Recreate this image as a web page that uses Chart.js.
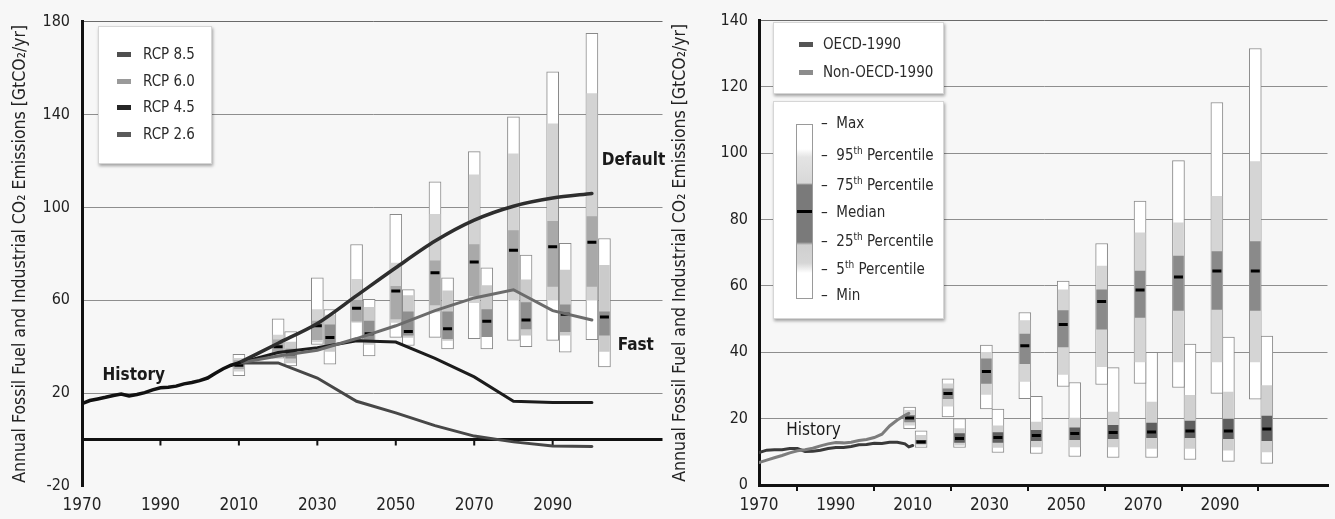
<!DOCTYPE html>
<html>

<head>
    <meta charset="utf-8">
    <script src="https://cdn.jsdelivr.net/npm/chart.js@4.4.7/dist/chart.umd.min.js"></script>
    <style>
        body { margin: 0; background: #f7f7f7; }
        #board { position: relative; width: 1335px; height: 519px; overflow: hidden;
                 font-family: 'Liberation Sans Narrow', 'DejaVu Sans Condensed', sans-serif; color: #2a2a2a; }
        canvas { position: absolute; top: 0; }
        .box { position: absolute; background: #fff; border: 1px solid #d6d6d6; box-shadow: 1px 2px 3px rgba(0,0,0,0.35); }
        .item { position: absolute; font-size: 15px; line-height: 18px; white-space: nowrap; }
        .swatch { position: absolute; width: 14px; height: 5px; }
        sup { font-size: 10px; line-height: 0; }
    </style>
</head>

<body>
    <div id="board">
        <canvas id="leftChart" width="670" height="519" style="left:0"></canvas>
        <canvas id="rightChart" width="675" height="519" style="left:660px"></canvas>

        <div class="box" style="left:98px; top:26px; width:112px; height:136px;">
            <div class="swatch" style="left:18px; top:25px; background:#4f4f4f"></div>
            <div class="item" style="left:44px; top:18px;">RCP 8.5</div>
            <div class="swatch" style="left:18px; top:52px; background:#9a9a9a"></div>
            <div class="item" style="left:44px; top:45px;">RCP 6.0</div>
            <div class="swatch" style="left:18px; top:78px; background:#262626"></div>
            <div class="item" style="left:44px; top:71px;">RCP 4.5</div>
            <div class="swatch" style="left:18px; top:105px; background:#5a5a5a"></div>
            <div class="item" style="left:44px; top:98px;">RCP 2.6</div>
        </div>

        <div class="box" style="left:773px; top:22px; width:169px; height:70px;">
            <div class="swatch" style="left:25px; top:19px; background:#555"></div>
            <div class="item" style="left:49px; top:12px;">OECD-1990</div>
            <div class="swatch" style="left:25px; top:47px; background:#8c8c8c"></div>
            <div class="item" style="left:49px; top:40px;">Non-OECD-1990</div>
        </div>

        <div class="box" style="left:773px; top:101px; width:169px; height:216px;">
            <div style="position:absolute; left:22px; top:22px; width:15px; height:173px; border:1px solid #9a9a9a;
                        background:linear-gradient(#fff 0px, #fff 24px, #e4e4e4 32px, #d8d8d8 58px, #7a7a7a 60px, #7a7a7a 117px, #cfcfcf 120px, #d6d6d6 138px, #fff 148px, #fff 173px)"></div>
            <div style="position:absolute; left:23px; top:108px; width:15px; height:3px; background:#000"></div>
            <div class="item" style="left:47px; top:12px;">–&nbsp; Max</div>
            <div class="item" style="left:47px; top:44px;">–&nbsp; 95<sup>th</sup> Percentile</div>
            <div class="item" style="left:47px; top:74px;">–&nbsp; 75<sup>th</sup> Percentile</div>
            <div class="item" style="left:47px; top:101px;">–&nbsp; Median</div>
            <div class="item" style="left:47px; top:130px;">–&nbsp; 25<sup>th</sup> Percentile</div>
            <div class="item" style="left:47px; top:158px;">–&nbsp; 5<sup>th</sup> Percentile</div>
            <div class="item" style="left:47px; top:184px;">–&nbsp; Min</div>
        </div>
    </div>

    <script>
        // axes
        const xTicks = [1970, 1990, 2010, 2030, 2050, 2070, 2090];
        const leftYTicks = [-20, 20, 60, 100, 140, 180];
        const rightYTicks = [0, 20, 40, 60, 80, 100, 120, 140];
        const yTitle = "Annual Fossil Fuel and Industrial CO\u2082 Emissions [GtCO\u2082/yr]";

        // left panel: history and pathways
        const histYears = [1970, 1972, 1974, 1976, 1978, 1980, 1982, 1984, 1986, 1988, 1990, 1992, 1994, 1996, 1998, 2000, 2002, 2004, 2006, 2008, 2010];
        const histWorld = [15.5, 16.8, 17.5, 18.2, 19.0, 19.6, 18.8, 19.4, 20.2, 21.4, 22.3, 22.5, 23.0, 24.0, 24.6, 25.4, 26.5, 28.6, 30.5, 32.0, 33.0];

        const pathYears = [2010, 2020, 2030, 2040, 2050, 2060, 2070, 2080, 2090, 2100];
        const defaultPath = [33, 41.5, 50, 62, 74, 85.5, 94.5, 100.5, 104, 106];
        const fastPath = [33, 36, 38.5, 43.5, 49, 55.5, 61, 64.5, 55.5, 51.5];
        const midPath = [33, 37.5, 39.5, 42.5, 42, 35, 27, 16.5, 16, 16];
        const lowPath = [33, 33, 26.5, 16.5, 11.5, 6, 1.5, -1, -2.8, -3];

        // left panel boxes: [min, p5, p25, median, p75, p95, max]
        const defaultYears = [2010, 2020, 2030, 2040, 2050, 2060, 2070, 2080, 2090, 2100];
        const defaultStats = [
            [27.5, 29.5, 30.5, 32, 34, 35, 36.7],
            [35, 36.5, 38, 40, 43, 45, 52],
            [41, 42, 43, 49, 51, 56, 69.7],
            [43, 50.5, 51, 56.6, 60, 69, 84],
            [44, 50.5, 52, 64, 66, 76, 97],
            [44, 55, 58, 71.8, 77, 97, 111],
            [43.5, 59, 62, 76.5, 84, 114, 124],
            [42.7, 60, 64, 81.5, 90, 123, 139],
            [42.7, 60, 66, 83, 94, 136, 158.4],
            [43, 60, 66, 85, 96, 149, 175]
        ];
        const fastYears = [2020, 2030, 2040, 2050, 2060, 2070, 2080, 2090, 2100];
        const fastStats = [
            [31.7, 33, 35, 37, 39, 42, 46.5],
            [32.5, 38, 41, 44, 49.4, 53.6, 56],
            [36, 41, 43, 45.6, 51, 57, 60.4],
            [40.5, 44, 45, 46.5, 55, 62, 64.6],
            [39, 42.7, 43.5, 47.7, 55, 64, 69.7],
            [39, 44.3, 44.3, 51, 56, 66.3, 74],
            [40, 45, 47.7, 51.5, 59, 68.8, 79.4],
            [37.6, 45, 46.5, 54, 58, 73, 84.5],
            [31.3, 38, 45, 52.8, 55, 75, 86.6]
        ];

        // right panel: history by region
        const regionYears = [1970, 1972, 1974, 1976, 1978, 1980, 1982, 1984, 1986, 1988, 1990, 1992, 1994, 1996, 1998, 2000, 2002, 2004, 2006, 2008, 2009, 2010];
        const oecdHist = [9.8, 10.5, 10.6, 10.6, 11.0, 11.0, 10.1, 10.2, 10.5, 11.0, 11.3, 11.3, 11.6, 12.1, 12.2, 12.6, 12.5, 12.9, 12.9, 12.4, 11.5, 11.9];
        const nonOecdHist = [6.8, 7.5, 8.2, 8.9, 9.7, 10.3, 10.6, 11.1, 11.8, 12.4, 12.8, 12.7, 12.9, 13.4, 13.7, 14.3, 15.3, 17.8, 19.6, 21.0, 21.6, null];

        // right panel boxes: [min, p5, p25, median, p75, p95, max]
        const regionBoxYears = [2010, 2020, 2030, 2040, 2050, 2060, 2070, 2080, 2090, 2100];
        const nonOecdStats = [
            [17, 18, 19, 20.2, 21, 22.5, 23.5],
            [20.5, 23.8, 26, 27.6, 29, 30.5, 32],
            [22.9, 27.3, 30.6, 34.2, 38, 40, 42.2],
            [26, 31.2, 36.6, 42, 45.5, 49.6, 52],
            [29.7, 33.3, 41.6, 48.4, 52.6, 58.8, 61.5],
            [30.3, 35.7, 47, 55.3, 58.8, 66, 72.8],
            [30.6, 37.1, 50.5, 58.8, 64.5, 76, 85.6],
            [29.4, 37.1, 52.6, 62.7, 69, 79, 97.8],
            [27.6, 37.1, 52.9, 64.5, 70.4, 87, 115.3],
            [25.9, 37.1, 52.6, 64.5, 73.4, 97.5, 131.6]
        ];
        const oecdStats = [
            [11.3, 12, 12.5, 13, 13.5, 15, 16.3],
            [11.3, 12, 12.8, 14, 15.5, 17, 20],
            [9.8, 11.3, 12.8, 14.3, 15.8, 17.8, 22.9],
            [9.5, 11.5, 13.4, 14.9, 16.5, 19, 26.7],
            [8.6, 11.5, 13.7, 15.5, 17.2, 20.2, 30.9],
            [8.3, 11.5, 14, 15.8, 18, 22, 35.4],
            [8.3, 11, 14.3, 16, 18.7, 25, 40],
            [7.7, 11, 14.3, 16.3, 19.3, 27, 42.5],
            [7.1, 10.5, 14, 16.3, 19.9, 28, 44.6],
            [6.5, 10, 13.4, 16.9, 20.8, 30, 44.9]
        ];

        const FONT = "'Liberation Sans Narrow', 'DejaVu Sans Condensed', sans-serif";
        Chart.defaults.font.family = FONT;
        Chart.defaults.color = '#222';

        function boxSets(years, stats, shift, light, dark) {
            const pick = (a, b) => years.map((yr, i) => ({ x: yr + shift, y: [stats[i][a], stats[i][b]] }));
            const bar = { type: 'bar', grouped: false, borderSkipped: false, barPercentage: 1, categoryPercentage: 1 };
            return [
                { ...bar, data: pick(0, 6), backgroundColor: '#fff', borderColor: '#8a8a8a', borderWidth: 1, barThickness: 12, order: 4 },
                { ...bar, data: pick(1, 5), backgroundColor: light, borderWidth: 0, barThickness: 10, order: 3 },
                { ...bar, data: pick(2, 4), backgroundColor: dark, borderWidth: 0, barThickness: 10, order: 2 },
                { type: 'line', showLine: false, order: 1, data: years.map((yr, i) => ({ x: yr + shift, y: stats[i][3] })),
                  pointStyle: 'line', pointRadius: 4.5, pointBorderWidth: 3, borderColor: '#000', pointBorderColor: '#000' }
            ];
        }

        function pathSet(years, vals, color, width, tension) {
            return { type: 'line', data: years.map((yr, i) => ({ x: yr, y: vals[i] })), borderColor: color,
                     borderWidth: width, pointRadius: 0, tension: tension || 0, order: 0, borderCapStyle: 'round' };
        }

        // black zero line with tick marks (left panel)
        const zeroLine = {
            id: 'zeroLine',
            beforeDatasetsDraw(chart) {
                const { ctx, chartArea, scales: { x, y } } = chart;
                const py = y.getPixelForValue(0);
                ctx.save();
                ctx.strokeStyle = '#111';
                ctx.lineWidth = 3;
                ctx.beginPath();
                ctx.moveTo(chartArea.left, py);
                ctx.lineTo(chartArea.right, py);
                ctx.stroke();
                ctx.lineWidth = 2;
                ctx.beginPath();
                xTicks.slice(1).forEach(v => {
                    const px = x.getPixelForValue(v);
                    ctx.moveTo(px, py);
                    ctx.lineTo(px, py + 6);
                });
                ctx.stroke();
                ctx.restore();
            }
        };

        const notes = {
            id: 'notes',
            afterDatasetsDraw(chart, args, opts) {
                const { ctx, scales: { x, y } } = chart;
                ctx.save();
                ctx.fillStyle = '#1a1a1a';
                ctx.textAlign = 'center';
                ctx.textBaseline = 'middle';
                opts.items.forEach(n => {
                    ctx.font = n.font;
                    ctx.fillText(n.text, x.getPixelForValue(n.x), y.getPixelForValue(n.y));
                });
                ctx.restore();
            }
        };

        const xScale = (height, grid, border, pad) => ({
            type: 'linear', min: 1970, max: 2118, offset: false,
            afterBuildTicks: s => { s.ticks = xTicks.map(v => ({ value: v })); },
            afterFit: s => { s.height = height; },
            grid: grid, border: border,
            ticks: { font: { size: 17 }, color: '#222', padding: pad, callback: v => String(v) }
        });

        const yScale = (min, max, tickList, width, pad) => ({
            min: min, max: max,
            afterBuildTicks: s => { s.ticks = tickList.map(v => ({ value: v })); },
            afterFit: s => { s.width = width; },
            grid: { drawTicks: false, lineWidth: 1,
                    color: c => (c.tick && c.tick.value === min) ? 'rgba(0,0,0,0)' : (c.tick && c.tick.value === max ? '#6a6a6a' : '#8e8e8e') },
            border: { color: '#111', width: 3 },
            ticks: { font: { size: 16 }, color: '#222', padding: pad, callback: v => String(v) },
            title: { display: true, text: yTitle, font: { size: 17.5 }, color: '#222', padding: { top: 10, bottom: 0 } }
        });

        new Chart(document.getElementById('leftChart'), {
            type: 'bar',
            data: {
                datasets: [
                    ...boxSets(defaultYears, defaultStats, 0, '#d3d3d3', '#a9a9a9'),
                    ...boxSets(fastYears, fastStats, 3.2, '#cbcbcb', '#8f8f8f'),
                    pathSet(histYears, histWorld, '#111', 3.5),
                    pathSet(pathYears, defaultPath, '#2e2e2e', 3.5, 0.3),
                    pathSet(pathYears, fastPath, '#6b6b6b', 3),
                    pathSet(pathYears, midPath, '#1c1c1c', 3),
                    pathSet(pathYears, lowPath, '#474747', 3)
                ]
            },
            options: {
                responsive: false,
                animation: false,
                layout: { padding: { top: 13, right: 5, left: 0, bottom: 0 } },
                plugins: {
                    legend: { display: false },
                    tooltip: { enabled: false },
                    notes: { items: [
                        { text: 'History', x: 1983.2, y: 27.4, font: 'bold 17px ' + FONT },
                        { text: 'Default', x: 2110.6, y: 120, font: 'bold 17px ' + FONT },
                        { text: 'Fast', x: 2111.2, y: 40.5, font: 'bold 17px ' + FONT }
                    ] }
                },
                scales: {
                    x: xScale(33, { display: false, drawTicks: false }, { display: false }, 9),
                    y: yScale(-20, 180, leftYTicks, 82, 12)
                }
            },
            plugins: [zeroLine, notes]
        });

        new Chart(document.getElementById('rightChart'), {
            type: 'bar',
            data: {
                datasets: [
                    ...boxSets(regionBoxYears, nonOecdStats, -0.8, '#d5d5d5', '#8a8a8a'),
                    ...boxSets(regionBoxYears, oecdStats, 2.2, '#d0d0d0', '#5e5e5e'),
                    pathSet(regionYears, nonOecdHist, '#7d7d7d', 3),
                    pathSet(regionYears, oecdHist, '#3a3a3a', 3)
                ]
            },
            options: {
                responsive: false,
                animation: false,
                layout: { padding: { top: 14, right: 2, left: 0, bottom: 0 } },
                plugins: {
                    legend: { display: false },
                    tooltip: { enabled: false },
                    notes: { items: [
                        { text: 'History', x: 1984.2, y: 16.3, font: '17px ' + FONT }
                    ] }
                },
                scales: {
                    x: xScale(34, { display: true, drawOnChartArea: false, drawTicks: true, tickLength: 6, color: '#111', lineWidth: 2 },
                              { color: '#111', width: 3 }, 4),
                    y: yScale(0, 140, rightYTicks, 99, 11)
                }
            },
            plugins: [notes]
        });
    </script>
</body>

</html>
